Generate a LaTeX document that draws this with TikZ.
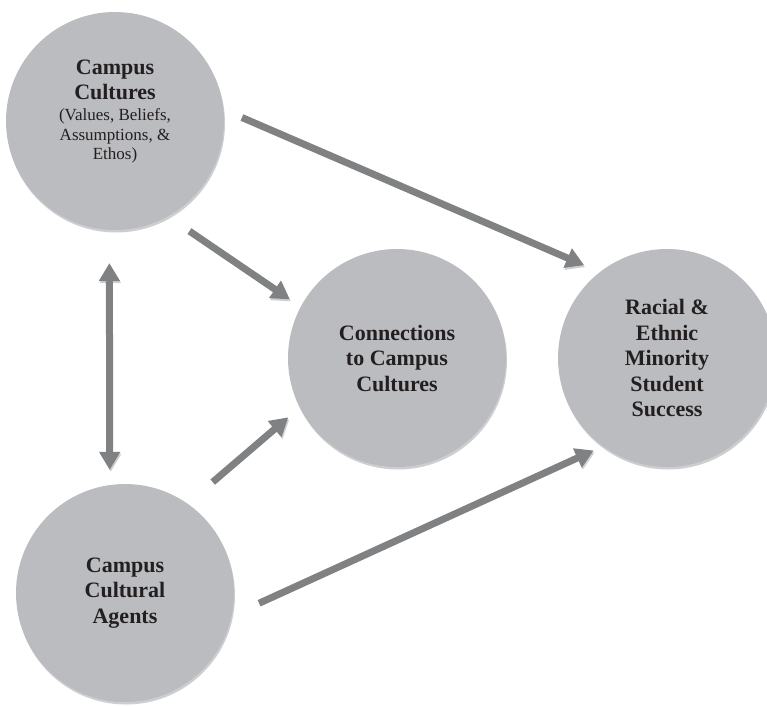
\documentclass[tikz,border=0pt]{standalone}
\usepackage{fontspec}
\setmainfont{Liberation Serif}
\usetikzlibrary{arrows.meta,shadows}

\definecolor{discgray}{HTML}{BBBCBF}
\definecolor{rimgray}{HTML}{CDCED0}
\definecolor{arrowgray}{HTML}{808183}
\definecolor{arrowshade}{HTML}{D0D0D2}
\definecolor{inkblack}{HTML}{231F20}

\begin{document}
\begin{tikzpicture}[x=1pt, y=-1pt, >={Triangle[width=20pt,length=18pt]},
    disc/.style={circle, fill=discgray, minimum size=218pt, inner sep=0pt,
      drop shadow={shadow xshift=1pt, shadow yshift=-2.5pt, fill=rimgray, opacity=1},
      text=inkblack, align=center, font=\bfseries\fontsize{22}{25.5}\selectfont},
    title/.style={text=inkblack, align=center, inner sep=0pt, font=\bfseries\fontsize{22}{24.5}\selectfont},
    sub/.style={text=inkblack, align=center, inner sep=0pt, font=\fontsize{17}{19.5}\selectfont},
    link/.style={line width=7pt, draw=arrowgray, ->,
      preaction={draw=arrowshade, transform canvas={xshift=1pt, yshift=-2pt}}}]
  \useasboundingbox (0,0) rectangle (767,705);
  % the four discs
  \node[disc] (cult) at (115,121) {};
  \node[title] (culttitle) at (115,80) {Campus\\Cultures};
  \node[sub] (cultsub) at (115,136) {(Values, Beliefs,\\Assumptions, \&\\Ethos)};
  \node[disc] (conn) at (397,358) {Connections\\to Campus\\Cultures};
  \node[disc] (succ) at (667,358) {Racial \&\\Ethnic\\Minority\\Student\\Success};
  \node[disc] (agent) at (125,593) {Campus\\Cultural\\Agents};
  % links between them
  \draw[link, shorten <=20pt, shorten >=17pt] (cult.6) -- (succ.128);
  \draw[link, shorten <=26pt, shorten >=13pt] (cult.-61) -- (conn.152);
  \draw[link, <->, shorten <=33pt, shorten >=15pt] (cult.-93) -- (agent.98);
  \draw[link, shorten <=33pt, shorten >=15pt] (agent.55) -- (conn.207);
  \draw[link, shorten <=30pt, shorten >=10pt] (agent.-12) -- (succ.234);
\end{tikzpicture}
\end{document}
